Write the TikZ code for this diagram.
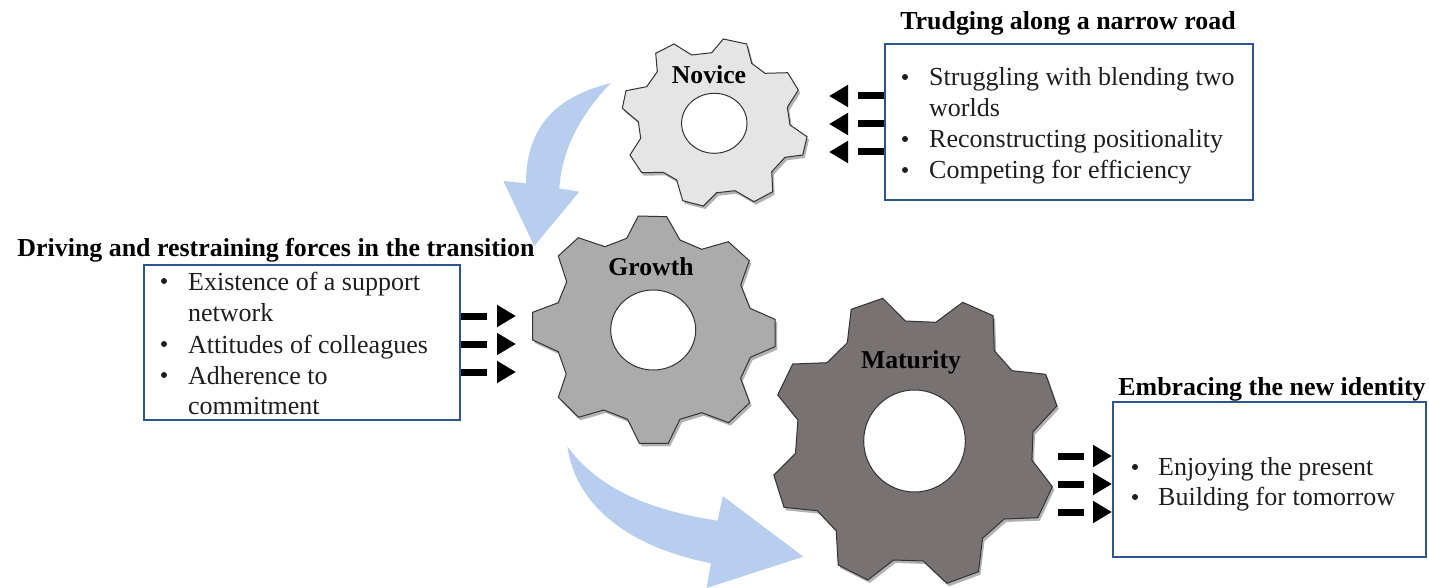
\documentclass[tikz,border=0pt]{standalone}
\usepackage{fontspec}
\setmainfont{Liberation Serif}
\usetikzlibrary{arrows.meta,shadows}
\definecolor{boxblue}{RGB}{47,84,150}
\definecolor{flowblue}{RGB}{184,206,238}
\definecolor{inkgrey}{RGB}{30,30,30}
\definecolor{darkgear}{RGB}{120,114,114}
\tikzset{
  gear/.style={draw=black!80,line width=1pt,drop shadow={shadow xshift=2pt,shadow yshift=-3pt,opacity=.3,fill=black}},
  gearhole/.style={draw=black!80,line width=1pt,fill=white},
  forcebox/.style={draw=boxblue,line width=2pt,inner sep=0pt},
  forcearrow/.style={line width=7pt,dash pattern=on 26pt off 40pt,-{Triangle[length=19pt,width=21pt]}},
  head/.style={font=\fontsize{25.9}{28}\selectfont\bfseries,anchor=base,inner sep=0pt},
  gearname/.style={font=\fontsize{25.7}{28}\selectfont\bfseries,anchor=base,inner sep=0pt},
  item/.style={font=\fontsize{26}{30}\selectfont,text=inkgrey,anchor=base west,inner sep=0pt},
  dot/.style={circle,fill=inkgrey,minimum size=6pt,inner sep=0pt}
}
\begin{document}
\begin{tikzpicture}[x=1pt,y=-1pt]
  \useasboundingbox (0,0) rectangle (1429,588);
  \fill[flowblue] (610.7,83.3) .. controls (548,98) and (526,135) .. (526,183.3) -- (503.3,181) -- (534.3,246) -- (579.3,191.7) -- (559.3,188.3) .. controls (562,150) and (580,115) .. (610.7,83.3) -- cycle;
  \fill[flowblue] (567.4,446.7) .. controls (600,490) and (650,510) .. (717.6,520.7) -- (722.8,496) -- (803.4,556.7) -- (706.6,588) -- (710.9,563.3) .. controls (620,545) and (575,500) .. (567.4,446.7) -- cycle;
  \path[gear,fill=black!10] (723.3,39) -- (746.7,44) -- (751.7,63.3) -- (765,73.3) -- (787.7,72.7) -- (798.3,90) -- (787.3,107.3) -- (790,125) -- (807,136.7) -- (802.7,155) -- (785,157.3) -- (771.7,171.7) -- (772.7,191.7) -- (754,201.7) -- (735,190.7) -- (716.7,192.7) -- (703.3,206) -- (682.7,200.7) -- (676.7,180) -- (663.3,172.3) -- (641.7,172.7) -- (630,155) -- (640.7,138.3) -- (638.3,121.7) -- (622.3,108.3) -- (626,90.7) -- (646.7,86.7) -- (657.3,71.7) -- (655.7,53.3) -- (674,44) -- (691.7,55) -- (711.7,52.7) -- cycle;
  \path[gearhole] (714.3,123.3) ellipse (32.7 and 30);
  \path[gear,fill=black!33] (638.3,216) -- (666.7,216.7) -- (680,240) -- (701.7,249.3) -- (728.3,241.7) -- (749.3,260.7) -- (740.7,285) -- (750,308.3) -- (775,319.3) -- (775,346.7) -- (750.4,357.3) -- (740.6,378.3) -- (749.6,402.7) -- (728.7,422.7) -- (701.8,412.7) -- (680,419.3) -- (668.2,443.3) -- (639.4,443.3) -- (627.5,419.3) -- (603.8,410) -- (578.5,417.3) -- (558.3,397.3) -- (566.2,374) -- (558.3,351.7) -- (532.6,340) -- (532.6,312.3) -- (558.3,302.7) -- (566.7,281.7) -- (558.3,256) -- (578.3,237.7) -- (605,246.7) -- (626.7,238.3) -- cycle;
  \path[gearhole] (653.2,330) ellipse (42.5 and 40);
  \path[gear,fill=darkgear] (882.8,298.3) -- (905.4,321) -- (935.8,322.3) -- (962.7,302.3) -- (993.1,315.7) -- (994.3,350.7) -- (1012.1,370.7) -- (1045.7,374.3) -- (1056.8,406) -- (1033,431.7) -- (1031.9,460) -- (1052.4,486.7) -- (1037.8,517.7) -- (1004.2,519) -- (982.5,538.3) -- (978.5,571.7) -- (946.9,583.3) -- (923.2,561) -- (893.5,560) -- (867.8,580) -- (838.2,565) -- (836.2,530.7) -- (817.2,510.7) -- (784,507.3) -- (773.8,475) -- (795.5,453.3) -- (797.9,420) -- (777.7,395) -- (792.7,364) -- (827.1,362.7) -- (847.3,342.7) -- (851.2,309.3) -- cycle;
  \path[gearhole] (914.5,441) ellipse (50.8 and 51);
  \node[gearname] (novice) at (709,84) {Novice};
  \node[gearname] (growth) at (651,275) {Growth};
  \node[gearname] (maturity) at (911,368) {Maturity};
  \node[forcebox,minimum width=368pt,minimum height=156pt] (novbox) at (1069,122) {};
  \node[forcebox,minimum width=316pt,minimum height=155pt] (drvbox) at (302,342.5) {};
  \node[forcebox,minimum width=313pt,minimum height=155pt] (embbox) at (1269.5,479.5) {};
  \node[head] (novhead) at (1068,30) {Trudging along a narrow road};
  \node[head] (drvhead) at (276,256) {Driving and restraining forces in the transition};
  \node[head] (embhead) at (1272,395) {Embracing the new identity};
  \foreach \i/\y/\txt in {1/86/Struggling with blending two,2/117/worlds,3/148/Reconstructing positionality,4/179/Competing for efficiency}
    \node[item] (nov\i) at (929,\y) {\txt};
  \foreach \i/\y/\txt in {1/290/Existence of a support,2/321/network,3/353/Attitudes of colleagues,4/384/Adherence to,5/414/commitment}
    \node[item] (drv\i) at (188,\y) {\txt};
  \foreach \i/\y/\txt in {1/475/Enjoying the present,2/505/Building for tomorrow}
    \node[item] (emb\i) at (1158,\y) {\txt};
  \foreach \i/\y in {1/77,3/139,4/170} \node[dot] (novdot\i) at (905,\y) {};
  \foreach \i/\y in {1/281,3/344,4/375} \node[dot] (drvdot\i) at (164,\y) {};
  \foreach \i/\y in {1/467,2/497} \node[dot] (embdot\i) at (1135,\y) {};
  \foreach \i/\y in {1/96,2/124,3/152} {
    \coordinate (novfrom\i) at (novbox.west |- 0,\y);
    \coordinate (novto\i) at (829,\y);
    \draw[forcearrow] (novfrom\i) -- (novto\i);
  }
  \foreach \i/\y in {1/316,2/344,3/372} {
    \coordinate (drvfrom\i) at (drvbox.east |- 0,\y);
    \coordinate (drvto\i) at (516,\y);
    \draw[forcearrow] (drvfrom\i) -- (drvto\i);
  }
  \foreach \i/\y in {1/456,2/484,3/512} {
    \coordinate (embfrom\i) at (1058,\y);
    \coordinate (embto\i) at (embbox.west |- 0,\y);
    \draw[forcearrow] (embfrom\i) -- (embto\i);
  }
\end{tikzpicture}
\end{document}
